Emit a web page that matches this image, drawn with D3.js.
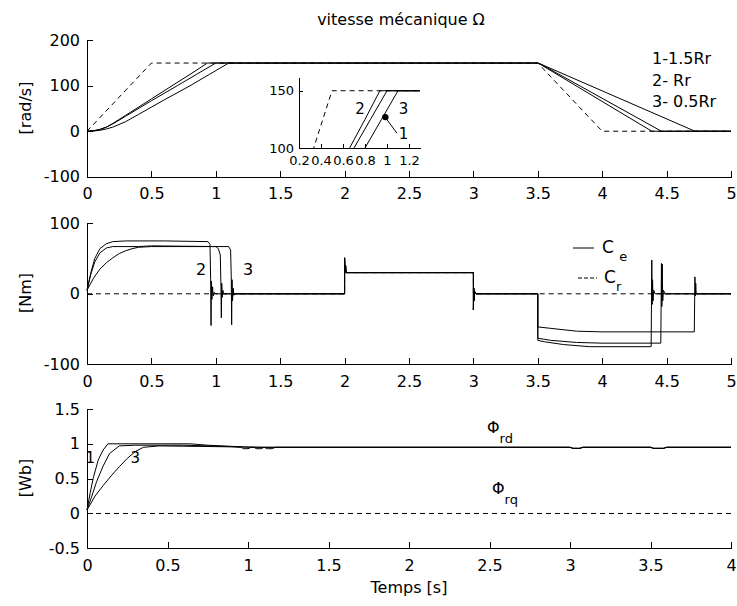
<!DOCTYPE html>
<html>
<head>
<meta charset="utf-8">
<script src="https://cdn.jsdelivr.net/npm/d3@7"></script>
<style>
  body { margin: 0; background: #fff; }
  text { font-family: "DejaVu Sans", sans-serif; fill: #000; }
</style>
</head>
<body>
<svg id="chart"></svg>
<script>
// ---- data ----
// speed [rad/s]: reference (dashed) and the three rotor resistances
const speedRef = [[0,0],[0.5,150],[3.5,150],[4,0],[5,0]];
const speed1 = [[0,0],[0.05,1],[0.1,4],[0.15,9],[0.2,16],[0.3,33],[0.5,67],[0.7,100],[0.85,125],[1.0,150],[3.5,150],[3.52,148],[4.46,0],[5,0]];
const speed2 = [[0,0],[0.05,1],[0.1,4],[0.15,9],[0.2,17],[0.3,35],[0.5,71],[0.66,100],[0.8,125],[0.935,150],[3.5,150],[3.52,147],[4.385,0],[5,0]];
const speed3 = [[0,0],[0.05,0.5],[0.1,2],[0.15,5],[0.2,9],[0.3,21],[0.4,37],[0.6,69],[0.8,100],[0.95,125],[1.1,150],[3.5,150],[3.52,148],[4.72,0],[5,0]];

// torque [Nm]
const torqueLoad = [[0,0],[2,0],[2,30],[3,30],[3,0],[5,0]];
const torqueCommon = [[2,0],[2,51],[2.003,30],[2.008,40],[2.012,30],[3,30],[3,-23],[3.003,8],[3.006,-10],[3.01,3],[3.02,0],[3.5,0]];
const torque1 = [[0,5],[0.03,28],[0.06,45],[0.1,58],[0.15,65],[0.2,67],[0.4,67],[0.5,68],[1.0,67],[1.02,64],[1.035,55],[1.04,10],[1.043,-34],[1.046,15],[1.05,-5],[1.055,5],[1.06,0],
  ...torqueCommon,
  [3.5,-63],[3.6,-66],[3.8,-69],[4.0,-70],[4.455,-70],[4.46,43],[4.463,-18],[4.466,42],[4.47,-10],[4.475,5],[4.49,0],[5,0]];
const torque2 = [[0,5],[0.03,30],[0.06,50],[0.1,64],[0.15,71],[0.2,74],[0.3,75],[0.6,75],[0.94,74],[0.955,70],[0.96,20],[0.963,-45],[0.966,18],[0.97,-8],[0.975,10],[0.98,-3],[0.99,2],[1.0,0],
  ...torqueCommon,
  [3.5,-66],[3.55,-68],[3.7,-72],[3.9,-75],[4.38,-75],[4.385,48],[4.388,-15],[4.391,20],[4.395,-10],[4.4,5],[4.41,0],[5,0]];
const torque3 = [[0,5],[0.05,22],[0.1,35],[0.15,44],[0.2,51],[0.25,57],[0.3,61],[0.35,64],[0.4,66],[0.5,67],[1.1,67],[1.115,62],[1.12,24],[1.123,-44],[1.126,20],[1.13,-10],[1.135,8],[1.14,-2],[1.15,0],
  ...torqueCommon,
  [3.5,-47],[3.6,-49],[3.8,-53],[4.0,-54],[4.715,-54],[4.72,24],[4.723,-3],[4.726,15],[4.73,0],[5,0]];

// rotor flux [Wb]
const fluxTail = [[3,0.95],[3.02,0.935],[3.06,0.935],[3.08,0.95],[3.5,0.95],[3.52,0.935],[3.58,0.935],[3.6,0.95],[4,0.95]];
const fluxD1 = [[0,0.05],[0.02,0.3],[0.04,0.52],[0.07,0.77],[0.1,0.91],[0.13,1.0],[0.64,1.0],[0.75,0.98],[0.93,0.96],[1.04,0.95],[1.05,0.93],[1.08,0.93],[1.1,0.95], ...fluxTail];
const fluxD2 = [[0,0.05],[0.03,0.25],[0.06,0.46],[0.1,0.68],[0.14,0.86],[0.2,0.97],[0.3,0.98],[0.6,0.98],[0.9,0.96],[0.96,0.95],[0.97,0.93],[1.0,0.93],[1.02,0.95], ...fluxTail];
const fluxD3 = [[0,0.05],[0.05,0.25],[0.1,0.4],[0.15,0.54],[0.2,0.67],[0.25,0.79],[0.3,0.89],[0.35,0.95],[0.45,0.97],[0.8,0.96],[1.1,0.95],[1.12,0.93],[1.15,0.93],[1.17,0.95], ...fluxTail];
const fluxQ = [[0,0],[4,0]];

// ticks
const timeTicks5 = [0,0.5,1,1.5,2,2.5,3,3.5,4,4.5,5];
const timeTicks4 = [0,0.5,1,1.5,2,2.5,3,3.5,4];
const speedTicks = [-100,0,100,200];
const torqueTicks = [-100,0,100];
const fluxTicks = [-0.5,0,0.5,1,1.5];
const insetXTicks = [0.2,0.4,0.6,0.8,1,1.2];
const insetYTicks = [100,150];

// ---- layout ----
const width = 737, height = 606;
const left = 87, right = 731;
const dash = "5,4";

const svg = d3.select("#chart")
  .attr("width", width)
  .attr("height", height);

svg.append("rect").attr("width", width).attr("height", height).attr("fill", "#fff");

// draws one MATLAB-like axes (left + bottom line, inward ticks)
function makePanel(xDomain, xRange, yDomain, yRange, xTicks, yTicks, fontSize, tickLen) {
  const x = d3.scaleLinear().domain(xDomain).range(xRange);
  const y = d3.scaleLinear().domain(yDomain).range(yRange);

  svg.append("g")
    .attr("transform", `translate(0,${yRange[0]})`)
    .call(d3.axisBottom(x).tickValues(xTicks).tickSizeInner(-tickLen).tickSizeOuter(0)
      .tickPadding(fontSize > 14 ? 11 : 8).tickFormat(d => String(d)))
    .call(g => g.selectAll("text").attr("font-size", fontSize).attr("font-family", "DejaVu Sans"))
    .attr("shape-rendering", "crispEdges");

  svg.append("g")
    .attr("transform", `translate(${xRange[0]},0)`)
    .call(d3.axisLeft(y).tickValues(yTicks).tickSizeInner(-tickLen).tickSizeOuter(0)
      .tickPadding(fontSize > 14 ? 7 : 5).tickFormat(d => String(d)))
    .call(g => g.selectAll("text").attr("font-size", fontSize).attr("font-family", "DejaVu Sans"))
    .attr("shape-rendering", "crispEdges");

  return { x, y };
}

function drawLine(panel, data, dashed, parent) {
  const line = d3.line().x(d => panel.x(d[0])).y(d => panel.y(d[1]));
  return (parent || svg).append("path")
    .datum(data)
    .attr("d", line)
    .attr("fill", "none")
    .attr("stroke", "#000")
    .attr("stroke-width", 1)
    .attr("stroke-dasharray", dashed ? dash : null);
}

function yLabel(text, cy) {
  svg.append("text")
    .attr("transform", `translate(25,${cy}) rotate(-90)`)
    .attr("text-anchor", "middle")
    .attr("dy", "0.35em")
    .attr("font-size", 16)
    .text(text);
}

// ---- top: speed ----
const pSpeed = makePanel([0,5], [left,right], [-100,200], [176.7,40.3], timeTicks5, speedTicks, 16, 6);
drawLine(pSpeed, speedRef, true);
[speed1, speed2, speed3].forEach(s => drawLine(pSpeed, s, false));

svg.append("text")
  .attr("x", 401).attr("y", 25)
  .attr("text-anchor", "middle")
  .attr("font-size", 16)
  .text("vitesse mécanique Ω");
yLabel("[rad/s]", 108);

["1-1.5Rr", "2- Rr", "3- 0.5Rr"].forEach((t, i) => {
  svg.append("text")
    .attr("x", 652).attr("y", 64 + i * 21.5)
    .attr("font-size", 16)
    .text(t);
});

// inset zoom on the end of the acceleration
const pInset = makePanel([0.2,1.3], [299,420], [100,162], [148,77], insetXTicks, insetYTicks, 13, 4);
svg.append("clipPath").attr("id", "insetClip")
  .append("rect").attr("x", 299).attr("y", 77).attr("width", 121).attr("height", 71);
const insetG = svg.append("g").attr("clip-path", "url(#insetClip)");
drawLine(pInset, speedRef, true, insetG);
[speed1, speed2, speed3].forEach(s => drawLine(pInset, s, false, insetG));

svg.append("text").attr("x", pInset.x(0.755)).attr("y", pInset.y(130)).attr("text-anchor", "middle").attr("font-size", 15).text("2");
svg.append("text").attr("x", pInset.x(1.15)).attr("y", pInset.y(130)).attr("text-anchor", "middle").attr("font-size", 15).text("3");
svg.append("text").attr("x", pInset.x(1.15)).attr("y", pInset.y(108)).attr("text-anchor", "middle").attr("font-size", 15).text("1");
svg.append("line")
  .attr("x1", pInset.x(1.09)).attr("y1", pInset.y(113))
  .attr("x2", pInset.x(0.99)).attr("y2", pInset.y(126))
  .attr("stroke", "#000");
svg.append("circle")
  .attr("cx", pInset.x(0.985)).attr("cy", pInset.y(127))
  .attr("r", 3.2).attr("fill", "#000");

// ---- middle: torque ----
const pTorque = makePanel([0,5], [left,right], [-100,100], [364.3,223.3], timeTicks5, torqueTicks, 16, 6);
drawLine(pTorque, torqueLoad, true);
[torque1, torque2, torque3].forEach(s => drawLine(pTorque, s, false));
yLabel("[Nm]", 293);

svg.append("text").attr("x", pTorque.x(0.885)).attr("y", pTorque.y(35) + 6).attr("text-anchor", "middle").attr("font-size", 16).text("2");
svg.append("text").attr("x", pTorque.x(1.25)).attr("y", pTorque.y(35) + 6).attr("text-anchor", "middle").attr("font-size", 16).text("3");

// legend
svg.append("line").attr("x1", 573).attr("x2", 594).attr("y1", 248).attr("y2", 248).attr("stroke", "#000");
svg.append("line").attr("x1", 578).attr("x2", 597).attr("y1", 278).attr("y2", 278).attr("stroke", "#000").attr("stroke-dasharray", "4,2");
const ceText = svg.append("text").attr("x", 602).attr("y", 253).attr("font-size", 17);
ceText.append("tspan").text("C ");
ceText.append("tspan").attr("dy", 8).attr("font-size", 13).text("e");
const crText = svg.append("text").attr("x", 604).attr("y", 283).attr("font-size", 17);
crText.append("tspan").text("C");
crText.append("tspan").attr("dy", 8).attr("font-size", 13).text("r");

// ---- bottom: rotor flux ----
const pFlux = makePanel([0,4], [left,right], [-0.5,1.5], [548.3,409], timeTicks4, fluxTicks, 16, 6);
drawLine(pFlux, fluxQ, true);
[fluxD1, fluxD2, fluxD3].forEach(s => drawLine(pFlux, s, false));
yLabel("[Wb]", 478);

svg.append("text").attr("x", pFlux.x(0.02)).attr("y", pFlux.y(0.72)).attr("text-anchor", "middle").attr("font-size", 15).text("1");
svg.append("text").attr("x", pFlux.x(0.3)).attr("y", pFlux.y(0.72)).attr("text-anchor", "middle").attr("font-size", 15).text("3");

const phiD = svg.append("text").attr("x", 487).attr("y", 433).attr("font-size", 16);
phiD.append("tspan").text("Φ");
phiD.append("tspan").attr("dy", 10).attr("font-size", 13).text("rd");
const phiQ = svg.append("text").attr("x", 492).attr("y", 494).attr("font-size", 16);
phiQ.append("tspan").text("Φ");
phiQ.append("tspan").attr("dy", 10).attr("font-size", 13).text("rq");

svg.append("text")
  .attr("x", 409).attr("y", 593)
  .attr("text-anchor", "middle")
  .attr("font-size", 16)
  .text("Temps [s]");
</script>
</body>
</html>
